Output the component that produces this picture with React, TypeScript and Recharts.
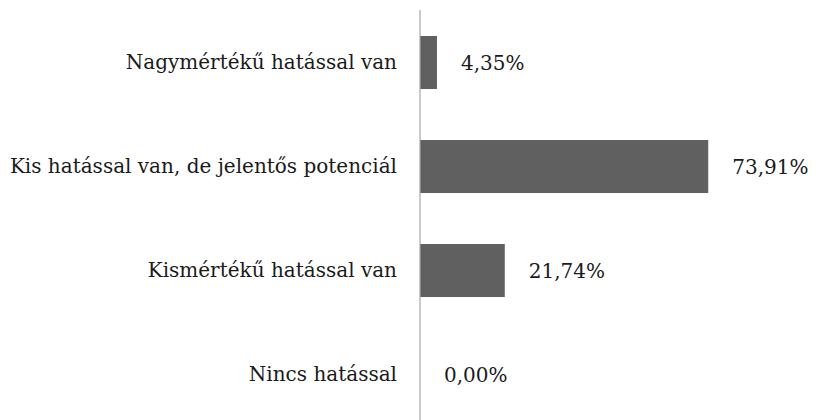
import React from 'react';
import { BarChart, Bar, XAxis, YAxis, LabelList } from 'recharts';

const categories = [
  'Nagymértékű hatással van',
  'Kis hatással van, de jelentős potenciál',
  'Kismértékű hatással van',
  'Nincs hatással',
];
const values = [4.35, 73.91, 21.74, 0.0];

const data = categories.map((name, i) => ({ name, value: values[i] }));

const font = 'DejaVu Serif';

const fmt = (v: any) => `${Number(v).toFixed(2).replace('.', ',')}%`;

export default function App() {
  return (
    <div style={{ position: 'absolute', left: 0, top: 0, width: 829, height: 420, overflow: 'hidden', background: '#fff' }}>
      <BarChart
        width={829}
        height={428}
        data={data}
        layout="vertical"
        margin={{ top: 10, right: 19, bottom: 2, left: 0 }}
        barCategoryGap="48%"
      >
        <XAxis type="number" domain={[0, 100]} hide />
        <YAxis
          type="category"
          dataKey="name"
          width={420}
          axisLine={{ stroke: '#a6a6a6', strokeWidth: 1.2 }}
          tickLine={false}
          tickSize={0}
          tickMargin={23}
          tick={{ fill: '#1a1a1a', fontSize: 20, fontFamily: font }}
          interval={0}
        />
        <Bar dataKey="value" fill="#606060" barSize={53} minPointSize={0.01} isAnimationActive={false}>
          <LabelList
            dataKey="value"
            position="right"
            offset={24}
            formatter={fmt}
            fill="#1a1a1a"
            fontSize={20}
            fontFamily={font}
          />
        </Bar>
      </BarChart>
    </div>
  );
}
